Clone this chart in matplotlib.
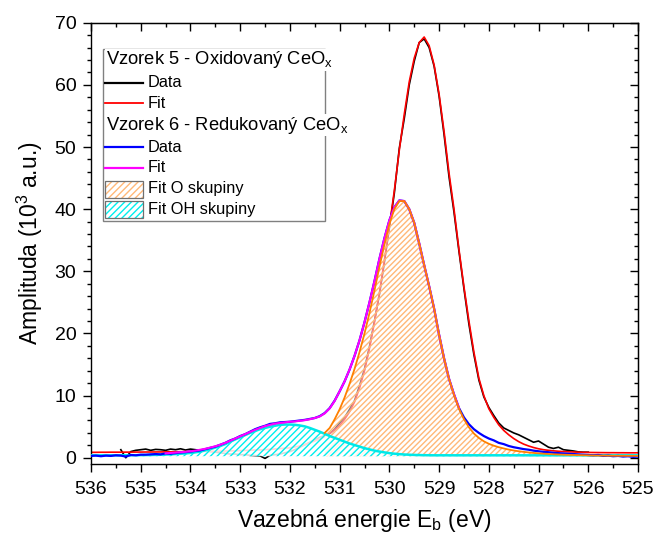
import numpy as np
import matplotlib
matplotlib.use('Agg')
import matplotlib.pyplot as plt
from matplotlib.lines import Line2D
from matplotlib.patches import Rectangle
from matplotlib.ticker import MultipleLocator

plt.rcParams['font.family'] = ['Liberation Sans', 'DejaVu Sans']
plt.rcParams['mathtext.fontset'] = 'custom'
plt.rcParams['mathtext.rm'] = 'Liberation Sans'
plt.rcParams['mathtext.it'] = 'Liberation Sans:italic'
plt.rcParams['hatch.linewidth'] = 1.0

# ---------------- data (binding energy in eV, amplitude in 10^3 a.u.) ----------------
energy = np.round(np.arange(536.0, 524.95, -0.1), 1)          # 536.0 ... 525.0
energy_d5 = np.round(np.arange(535.4, 525.95, -0.1), 1)       # 535.4 ... 526.0
energy_fit6 = np.round(np.arange(534.5, 528.55, -0.1), 1)     # 534.5 ... 528.6
energy_o = np.round(np.arange(531.3, 524.95, -0.1), 1)        # 531.3 ... 525.0

# Sample 5 - oxidised: data
data5 = [
    1.3, 0.0, 1.0, 1.2, 1.3, 1.4, 1.2, 1.35, 1.3, 1.2,
    1.4, 1.3, 1.45, 1.25, 1.4, 1.3, 1.2, 1.1, 1.0, 0.9,
    0.8, 0.7, 0.6, 0.6, 0.5, 0.5, 0.4, 0.35, 0.3, -0.1,
    0.4, 0.5, 0.6, 0.8, 1.0, 1.3, 1.7, 2.1, 2.5, 2.9,
    3.3, 3.6, 3.9, 4.6, 5.6, 6.5, 7.8, 9.2, 11.6, 14.3,
    17.9, 22.0, 26.3, 31.5, 37.0, 42.6, 49.8, 54.6, 60.0, 63.8,
    66.8, 67.4, 66.0, 63.0, 58.2, 52.0, 45.2, 39.5, 33.2, 27.2,
    21.5, 16.6, 12.5, 9.8, 8.1, 6.8, 5.6, 4.8, 4.4, 4.0,
    3.7, 3.3, 2.9, 2.5, 2.7, 2.2, 1.7, 1.5, 1.7, 1.3,
    1.2, 1.1, 0.95, 0.9, 0.9,
]

# Sample 5 - oxidised: fit
fit5 = [
    0.88, 0.88, 0.89, 0.89, 0.9, 0.9, 0.9, 0.91, 0.91, 0.92,
    0.92, 0.93, 0.93, 0.94, 0.94, 0.95, 0.96, 0.97, 0.98, 0.99,
    1.0, 1.01, 1.02, 1.03, 1.04, 1.05, 1.07, 1.09, 1.11, 1.13,
    1.15, 1.18, 1.21, 1.24, 1.27, 1.3, 1.36, 1.42, 1.48, 1.54,
    1.6, 1.75, 1.9, 2.1, 2.4, 2.7, 3.0, 3.4, 3.9, 4.5,
    5.2, 6.2, 7.4, 9.0, 11.2, 14.0, 17.6, 21.8, 26.5, 31.8,
    37.2, 43.0, 49.5, 55.3, 60.5, 64.3, 66.8, 67.7, 66.3, 63.2,
    58.5, 52.5, 45.8, 40.0, 33.5, 27.5, 22.0, 17.0, 12.8, 10.0,
    7.9, 6.5, 5.3, 4.4, 3.7, 3.1, 2.6, 2.2, 1.9, 1.65,
    1.45, 1.3, 1.2, 1.12, 1.05, 1.0, 0.96, 0.93, 0.9, 0.88,
    0.86, 0.85, 0.84, 0.83, 0.82, 0.82, 0.81, 0.81, 0.8, 0.8,
    0.8,
]

# Sample 6 - reduced: data
data6 = [
    0.3, 0.35, 0.25, 0.35, 0.3, 0.4, 0.35, 0.2, 0.45, 0.4,
    0.5, 0.5, 0.55, 0.6, 0.55, 0.7, 0.65, 0.75, 0.85, 0.9,
    1.0, 1.1, 1.2, 1.4, 1.6, 1.8, 2.1, 2.4, 2.8, 3.1,
    3.5, 3.8, 4.2, 4.6, 4.9, 5.15, 5.45, 5.55, 5.7, 5.75,
    5.8, 5.9, 6.0, 6.1, 6.25, 6.4, 6.7, 7.2, 8.0, 9.2,
    10.7, 12.3, 14.2, 16.4, 18.9, 21.8, 25.0, 28.4, 32.0, 35.3,
    38.2, 40.3, 41.4, 41.3, 40.0, 37.8, 34.5, 31.0, 27.6, 24.0,
    19.8, 16.0, 12.7, 10.2, 8.0, 6.5, 5.4, 4.6, 4.0, 3.5,
    3.1, 2.8, 2.4, 2.2, 1.9, 1.7, 1.55, 1.4, 1.3, 1.15,
    1.05, 0.95, 0.9, 0.8, 0.75, 0.7, 0.65, 0.6, 0.55, 0.5,
    0.45, 0.4, 0.45, 0.3, 0.35, 0.25, 0.3, 0.2, 0.25, 0.15,
    0.2,
]

# Sample 6 - reduced: total fit
fit6 = [
    0.72, 0.78, 0.84, 0.9, 0.96, 1.05, 1.15, 1.3, 1.45, 1.65,
    1.85, 2.1, 2.4, 2.75, 3.1, 3.45, 3.8, 4.15, 4.5, 4.8,
    5.1, 5.3, 5.5, 5.6, 5.7, 5.8, 5.85, 5.95, 6.05, 6.2,
    6.4, 6.65, 7.15, 7.95, 9.15, 10.7, 12.3, 14.2, 16.4, 18.9,
    21.8, 25.0, 28.4, 32.0, 35.3, 38.2, 40.3, 41.4, 41.3, 40.0,
    37.8, 34.5, 31.0, 27.6, 24.0, 19.8, 16.0, 12.7, 10.2, 8.0,
]

# Sample 6 - O component
fit_o = [
    4.0, 4.8, 6.2, 7.8, 9.7, 11.9, 14.3, 17.0, 20.0, 23.3,
    26.9, 30.7, 34.3, 37.6, 40.0, 41.3, 41.3, 40.0, 37.8, 34.5,
    31.0, 27.6, 24.0, 19.8, 16.0, 12.7, 10.1, 7.9, 6.2, 4.9,
    3.9, 3.2, 2.65, 2.25, 1.95, 1.7, 1.5, 1.32, 1.17, 1.05,
    0.95, 0.86, 0.78, 0.72, 0.66, 0.61, 0.57, 0.53, 0.5, 0.47,
    0.45, 0.43, 0.41, 0.39, 0.37, 0.36, 0.35, 0.34, 0.33, 0.32,
    0.32, 0.31, 0.31, 0.3,
]

# Sample 6 - OH component
fit_oh = [
    0.4, 0.4, 0.4, 0.4, 0.4, 0.4, 0.41, 0.41, 0.42, 0.42,
    0.43, 0.44, 0.45, 0.47, 0.49, 0.52, 0.55, 0.6, 0.65, 0.7,
    0.78, 0.88, 1.0, 1.2, 1.4, 1.65, 1.9, 2.2, 2.6, 2.95,
    3.3, 3.65, 4.0, 4.3, 4.6, 4.8, 5.0, 5.15, 5.3, 5.35,
    5.35, 5.3, 5.2, 5.05, 4.8, 4.5, 4.2, 3.85, 3.5, 3.2,
    2.9, 2.6, 2.3, 2.05, 1.8, 1.55, 1.35, 1.15, 1.0, 0.87,
    0.75, 0.66, 0.59, 0.53, 0.49, 0.46, 0.44, 0.42, 0.41, 0.4,
    0.4, 0.4, 0.4, 0.4, 0.4, 0.4, 0.4, 0.4, 0.4, 0.4,
    0.4, 0.4, 0.4, 0.4, 0.4, 0.4, 0.4, 0.4, 0.4, 0.4,
    0.4, 0.4, 0.4, 0.4, 0.4, 0.4, 0.4, 0.4, 0.4, 0.4,
    0.4, 0.4, 0.4, 0.4, 0.4, 0.4, 0.4, 0.4, 0.4, 0.4,
    0.4,
]
fill_floor = 0.25

x_label = 'Vazebná energie E$_\\mathrm{b}$ (eV)'
y_label = 'Amplituda (10$^\\mathrm{3}$ a.u.)'
legend_rows = [
    ('header', 'Vzorek 5 - Oxidovaný CeO$_\\mathrm{x}$', None),
    ('line', 'Data', 'black'),
    ('line', 'Fit', 'red'),
    ('header', 'Vzorek 6 - Redukovaný CeO$_\\mathrm{x}$', None),
    ('line', 'Data', 'blue'),
    ('line', 'Fit', 'magenta'),
    ('patch', 'Fit O skupiny', '#FFB878'),
    ('patch', 'Fit OH skupiny', '#00EEEE'),
]

# ---------------- figure ----------------
W, H = 657, 535
fig = plt.figure(figsize=(W / 100, H / 100), dpi=100)
ax_l, ax_r, ax_t, ax_b = 91, 638, 22.7, 464
ax = fig.add_axes([ax_l / W, 1 - ax_b / H, (ax_r - ax_l) / W, (ax_b - ax_t) / H])

ax.plot(energy_d5, data5, color='black', lw=1.2, zorder=2)
ax.plot(energy, fit5, color='red', lw=1.2, zorder=2.1)
ax.fill_between(energy_o, fit_o, fill_floor, facecolor=(1, 1, 1, 0.5),
                edgecolor='#FFB878', hatch='//////', linewidth=0, zorder=3)
ax.fill_between(energy, fit_oh, fill_floor, facecolor=(1, 1, 1, 0.85),
                edgecolor='#00EEEE', hatch='/////', linewidth=0, zorder=3.2)
ax.plot(energy, fit_oh, color='#00E8E8', lw=1.8, zorder=3.9)
ax.plot(energy, data6, color='blue', lw=1.6, zorder=4)
ax.plot(energy_fit6, fit6, color='magenta', lw=1.5, zorder=4.5)
ax.plot(energy_o, fit_o, color='#FF8000', lw=1.3, zorder=5)

ax.set_xlim(536, 525)
ax.set_ylim(-1, 70)
ax.xaxis.set_major_locator(MultipleLocator(1))
ax.xaxis.set_minor_locator(MultipleLocator(0.5))
ax.yaxis.set_major_locator(MultipleLocator(10))
ax.yaxis.set_minor_locator(MultipleLocator(2))
ax.tick_params(which='major', direction='out', length=5.5, width=1.0, labelsize=14,
               colors='black')
ax.tick_params(axis='x', which='major', pad=6.5)
ax.tick_params(axis='y', which='major', pad=5)
ax.tick_params(which='minor', direction='out', length=3, width=1.0)
for s in ax.spines.values():
    s.set_linewidth(1.0)

secx = ax.secondary_xaxis('top')
secx.xaxis.set_major_locator(MultipleLocator(1))
secx.xaxis.set_minor_locator(MultipleLocator(0.5))
secx.tick_params(which='major', direction='in', length=5.5, width=1.0, labeltop=False)
secx.tick_params(which='minor', direction='in', length=3, width=1.0)
secy = ax.secondary_yaxis('right')
secy.yaxis.set_major_locator(MultipleLocator(10))
secy.yaxis.set_minor_locator(MultipleLocator(2))
secy.tick_params(which='major', direction='in', length=5.5, width=1.0, labelright=False)
secy.tick_params(which='minor', direction='in', length=3, width=1.0)

ax.set_xlabel(x_label, fontsize=16.5, labelpad=7)
ax.set_ylabel(y_label, fontsize=16.5, labelpad=7)

# ---------------- legend (custom, Origin style) ----------------
def ax_xy(px, py):
    return ((px - ax_l) / (ax_r - ax_l), (ax_b - py) / (ax_b - ax_t))

fx0, fy0 = ax_xy(103, 221)
fx1, fy1 = ax_xy(325, 49)
ax.add_patch(Rectangle((fx0, fy0), fx1 - fx0, fy1 - fy0, transform=ax.transAxes,
                       facecolor='white', edgecolor='#808080', lw=1.0, zorder=10))
row_y = [60, 82.7, 103.3, 125, 147.3, 167.7, 189, 209.3]
for (kind, text, col), py in zip(legend_rows, row_y):
    if kind == 'header':
        tx, ty = ax_xy(106, py)
        ax.text(tx, ty, text, transform=ax.transAxes, fontsize=13.2, va='center', ha='left',
                zorder=12, bbox=dict(facecolor='white', edgecolor='none', pad=0.5))
        continue
    tx, ty = ax_xy(148, py)
    ax.text(tx, ty, text, transform=ax.transAxes, fontsize=11.8, va='center', ha='left', zorder=12)
    if kind == 'line':
        x0, yy = ax_xy(105, py)
        x1, _ = ax_xy(143, py)
        ax.add_line(Line2D([x0, x1], [yy, yy], transform=ax.transAxes, color=col,
                           lw=1.6 if col != 'red' else 1.3, zorder=12))
    else:
        x0, y0 = ax_xy(105, py + 8.5)
        x1, y1 = ax_xy(142.5, py - 8.5)
        ax.add_patch(Rectangle((x0, y0), x1 - x0, y1 - y0, transform=ax.transAxes,
                               facecolor='white', edgecolor=col, hatch='/////', lw=0, zorder=11))
        ax.add_patch(Rectangle((x0, y0), x1 - x0, y1 - y0, transform=ax.transAxes,
                               facecolor='none', edgecolor='#707070', lw=0.9, zorder=12))

fig.savefig('out.png', dpi=100)
